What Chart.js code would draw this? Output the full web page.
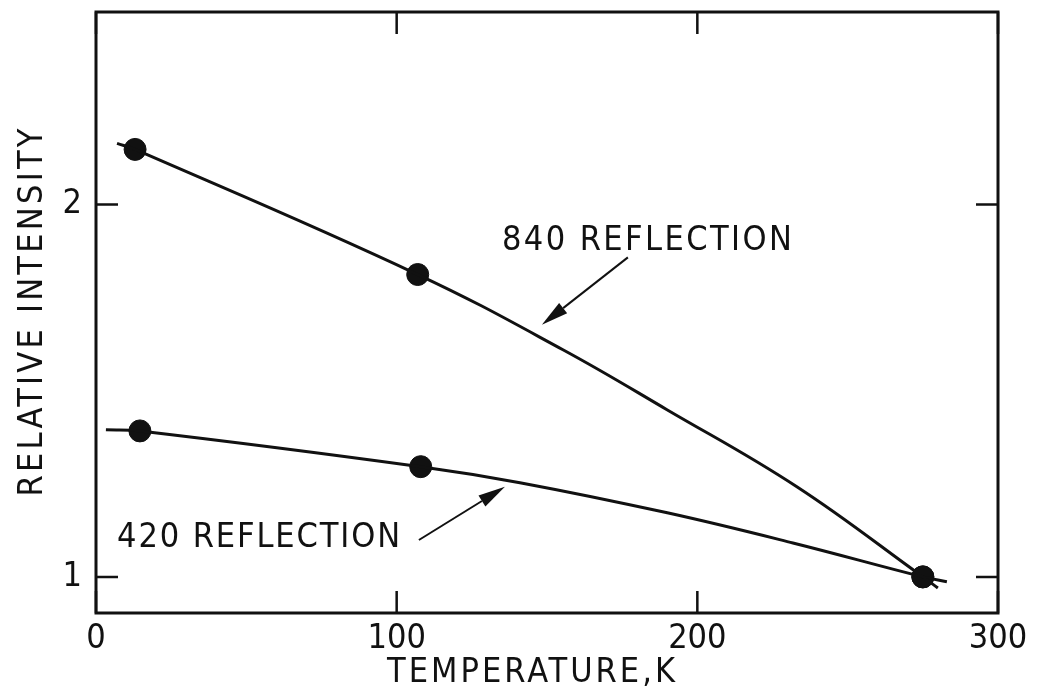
<!DOCTYPE html>
<html>
<head>
<meta charset="utf-8">
<title>Relative intensity vs temperature</title>
<script src="https://cdn.jsdelivr.net/npm/chart.js@4.4.1/dist/chart.umd.min.js"></script>
<style>
  html, body { margin: 0; padding: 0; background: #fff; }
  canvas { display: block; }
</style>
</head>
<body>
<canvas id="intensityChart" width="1037" height="700"></canvas>
<script>
// measured points
const temps840 = [13, 107, 275];
const intensity840 = [2.148, 1.812, 1.0];
const temps420 = [14.6, 108, 275];
const intensity420 = [1.392, 1.296, 1.0];

// hand-drawn curves through the points
const curveTemps840 = [7, 13, 107, 155.3, 189.9, 233.1, 275, 280];
const curveIntensity840 = [2.164, 2.148, 1.812, 1.610, 1.449, 1.242, 1.0, 0.970];
const curveTemps420 = [3.3, 14.6, 108, 141, 190, 231.8, 275, 283];
const curveIntensity420 = [1.395, 1.392, 1.296, 1.253, 1.172, 1.091, 1.0, 0.987];

const xTicks = [0, 100, 200, 300];
const yTicks = [1, 2];
const curveLabels = ['840 REFLECTION', '420 REFLECTION'];
const xTitle = 'TEMPERATURE,K';
const yTitle = 'RELATIVE INTENSITY';

const INK = '#111';
const FONT = '"Liberation Sans Narrow", "DejaVu Sans Condensed", sans-serif';

const toPoints = (xs, ys) => xs.map((x, i) => ({ x: x, y: ys[i] }));

// draws text stretched with letter spacing to a given width, left aligned
function spacedText(ctx, text, x, y, width) {
    ctx.letterSpacing = '0px';
    const natural = ctx.measureText(text).width;
    const gap = (width - natural) / (text.length - 1);
    ctx.letterSpacing = gap + 'px';
    ctx.textAlign = 'left';
    ctx.fillText(text, x, y);
    ctx.letterSpacing = '0px';
}

function arrow(ctx, x1, y1, x2, y2) {
    const ang = Math.atan2(y2 - y1, x2 - x1);
    const len = 27, half = 6.5;
    const bx = x2 - len * Math.cos(ang);
    const by = y2 - len * Math.sin(ang);
    ctx.lineWidth = 2;
    ctx.beginPath();
    ctx.moveTo(x1, y1);
    ctx.lineTo(bx, by);
    ctx.stroke();
    ctx.beginPath();
    ctx.moveTo(x2, y2);
    ctx.lineTo(bx + half * Math.sin(ang), by - half * Math.cos(ang));
    ctx.lineTo(bx - half * Math.sin(ang), by + half * Math.cos(ang));
    ctx.closePath();
    ctx.fill();
}

const framePlugin = {
    id: 'frame',
    afterDraw(chart) {
        const ctx = chart.ctx;
        const a = chart.chartArea;
        const xs = chart.scales.x;
        const ys = chart.scales.y;
        const tick = 22;
        ctx.save();
        ctx.strokeStyle = INK;
        ctx.fillStyle = INK;
        ctx.lineWidth = 3;
        ctx.strokeRect(a.left, a.top, a.right - a.left, a.bottom - a.top);

        // inward tick marks on all four sides
        ctx.lineWidth = 2.5;
        ctx.beginPath();
        xTicks.forEach(v => {
            const px = xs.getPixelForValue(v);
            ctx.moveTo(px, a.top); ctx.lineTo(px, a.top + tick);
            ctx.moveTo(px, a.bottom); ctx.lineTo(px, a.bottom - tick);
        });
        yTicks.forEach(v => {
            const py = ys.getPixelForValue(v);
            ctx.moveTo(a.left, py); ctx.lineTo(a.left + tick, py);
            ctx.moveTo(a.right, py); ctx.lineTo(a.right - tick, py);
        });
        ctx.stroke();

        // curve labels and their arrows
        ctx.font = '34px ' + FONT;
        ctx.textBaseline = 'alphabetic';
        spacedText(ctx, curveLabels[0], xs.getPixelForValue(135), ys.getPixelForValue(1.879), 290);
        spacedText(ctx, curveLabels[1], xs.getPixelForValue(7), ys.getPixelForValue(1.081), 283);
        arrow(ctx, xs.getPixelForValue(176.9), ys.getPixelForValue(1.858),
            xs.getPixelForValue(148.3), ys.getPixelForValue(1.677));
        arrow(ctx, xs.getPixelForValue(107.4), ys.getPixelForValue(1.099),
            xs.getPixelForValue(136.0), ys.getPixelForValue(1.242));

        // axis titles
        spacedText(ctx, xTitle, 531 - 144, a.bottom + 69, 288);
        ctx.translate(41.5, (a.top + a.bottom) / 2);
        ctx.rotate(-Math.PI / 2);
        spacedText(ctx, yTitle, -184, 0, 368);
        ctx.restore();
    }
};

const curveStyle = {
    showLine: true,
    borderColor: INK,
    borderWidth: 3,
    pointRadius: 0,
    tension: 0.4
};

const markerStyle = {
    showLine: false,
    pointRadius: 11,
    pointBackgroundColor: INK,
    pointBorderColor: INK
};

const tickFont = { family: FONT, size: 34 };

new Chart(document.getElementById('intensityChart'), {
    type: 'scatter',
    data: {
        datasets: [
            Object.assign({ data: toPoints(curveTemps840, curveIntensity840) }, curveStyle),
            Object.assign({ data: toPoints(curveTemps420, curveIntensity420) }, curveStyle),
            Object.assign({ data: toPoints(temps840, intensity840) }, markerStyle),
            Object.assign({ data: toPoints(temps420, intensity420) }, markerStyle)
        ]
    },
    options: {
        responsive: false,
        animation: false,
        layout: { padding: { top: 12, right: 39, left: 0, bottom: 0 } },
        plugins: { legend: { display: false }, tooltip: { enabled: false } },
        scales: {
            x: {
                type: 'linear',
                min: 0,
                max: 300,
                afterBuildTicks: scale => { scale.ticks = xTicks.map(v => ({ value: v })); },
                afterFit: scale => {
                    scale.height = 87;
                    scale.paddingLeft = 0;
                    scale.paddingRight = 0;
                },
                grid: { display: false, drawTicks: false },
                border: { display: false },
                ticks: { color: INK, font: tickFont, padding: 6, maxRotation: 0 }
            },
            y: {
                type: 'linear',
                min: 0.903,
                max: 2.517,
                afterBuildTicks: scale => { scale.ticks = yTicks.map(v => ({ value: v })); },
                afterFit: scale => {
                    scale.width = 96;
                    scale.paddingTop = 0;
                    scale.paddingBottom = 0;
                },
                grid: { display: false, drawTicks: false },
                border: { display: false },
                ticks: { color: INK, font: tickFont, padding: 14 }
            }
        }
    },
    plugins: [framePlugin]
});
</script>
</body>
</html>
